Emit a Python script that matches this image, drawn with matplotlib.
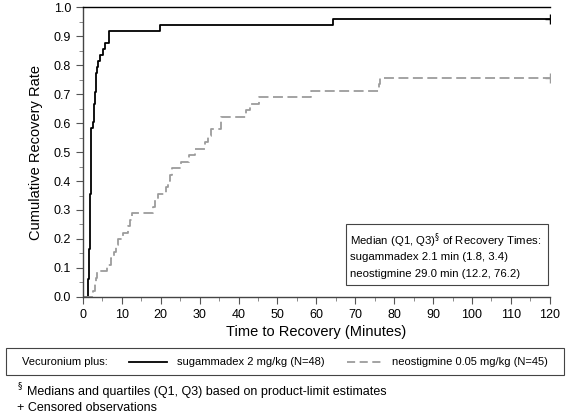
import matplotlib
matplotlib.use("Agg")
import matplotlib.pyplot as plt
from matplotlib.patches import Rectangle
from matplotlib.lines import Line2D
from matplotlib.ticker import MultipleLocator

plt.rcParams['font.family'] = ['Liberation Sans', 'DejaVu Sans']

# Dados (tempo em minutos, taxa acumulada de recuperação)
sug_tempo = [0, 1.2, 1.3, 1.5, 1.6, 1.7, 1.8, 1.9, 2.0, 2.1, 2.2, 2.5, 2.9, 3.1,
             3.4, 3.6, 3.8, 4.4, 5.1, 5.8, 6.8, 19.8, 64.2, 120]
sug_taxa = [0, 0.021, 0.063, 0.104, 0.167, 0.208, 0.25, 0.354, 0.458, 0.5, 0.583,
            0.604, 0.667, 0.708, 0.771, 0.792, 0.813, 0.833, 0.854, 0.875, 0.917,
            0.938, 0.958, 0.958]

neo_tempo = [0, 2.7, 3.0, 3.3, 3.7, 6.2, 7.2, 8.0, 8.5, 9.1, 10.3, 11.6, 12.2, 12.6,
             18.0, 18.6, 19.2, 21.4, 21.8, 22.5, 23.0, 25.3, 27.3, 28.8, 31.5, 32.2,
             32.8, 35.4, 35.6, 41.8, 43.0, 45.3, 58.6, 76.2, 76.4, 120]
neo_taxa = [0, 0.022, 0.044, 0.067, 0.089, 0.111, 0.133, 0.156, 0.178, 0.2, 0.222,
            0.244, 0.267, 0.289, 0.311, 0.333, 0.356, 0.378, 0.4, 0.422, 0.444,
            0.467, 0.489, 0.511, 0.533, 0.556, 0.578, 0.6, 0.622, 0.644, 0.667,
            0.689, 0.711, 0.733, 0.756, 0.756]

rotulos = ["sugammadex 2 mg/kg (N=48)", "neostigmine 0.05 mg/kg (N=45)"]
medianas = ["Median (Q1, Q3)$^{\\S}$ of Recovery Times:",
            "sugammadex 2.1 min (1.8, 3.4)",
            "neostigmine 29.0 min (12.2, 76.2)"]

cinza = '#9c9c9c'
tracejado = (0, (5.5, 2.5))

fig = plt.figure(figsize=(5.68, 4.18), dpi=100)
ax = fig.add_axes([0.146, 0.2895, 0.822, 0.6937])

ax.step(sug_tempo, sug_taxa, where='post', color='black', lw=1.3)
ax.step(neo_tempo, neo_taxa, where='post', color=cinza, lw=1.3, linestyle=tracejado)

# observações censuradas
ax.plot(sug_tempo[-1], sug_taxa[-1], '+', color='black', ms=7, mew=1)
ax.plot(neo_tempo[-1], neo_taxa[-1], '+', color=cinza, ms=7, mew=1)

ax.set_xlim(0, 120)
ax.set_ylim(0, 1.0)
ax.xaxis.set_major_locator(MultipleLocator(10))
ax.xaxis.set_minor_locator(MultipleLocator(5))
ax.yaxis.set_major_locator(MultipleLocator(0.1))
ax.yaxis.set_minor_locator(MultipleLocator(0.05))
ax.yaxis.set_major_formatter(matplotlib.ticker.FormatStrFormatter('%.1f'))
ax.tick_params(which='major', direction='out', length=5, width=0.8, labelsize=9,
               color='#555555')
ax.tick_params(which='minor', direction='out', length=3, width=0.6, color='#777777')
ax.spines['right'].set_visible(False)
for s in ['left', 'bottom', 'top']:
    ax.spines[s].set_linewidth(1.0)
ax.spines['left'].set_color('#444444')
ax.spines['bottom'].set_color('#444444')

ax.set_xlabel("Time to Recovery (Minutes)", fontsize=10.5, labelpad=3)
ax.set_ylabel("Cumulative Recovery Rate", fontsize=10.5, labelpad=8)

# caixa das medianas
ax.add_patch(Rectangle((0.563, 0.043), 0.434, 0.207, transform=ax.transAxes,
                       fill=True, facecolor='white', edgecolor='#444444', lw=0.8))
for i, t in enumerate(medianas):
    ax.text(0.573, 0.195 - i * 0.058, t, transform=ax.transAxes, fontsize=8.2,
            va='center', ha='left')

# legenda em caixa na parte de baixo
fig.patches.append(Rectangle((0.0106, 0.103), 0.982, 0.064, transform=fig.transFigure,
                             fill=False, edgecolor='#444444', lw=0.8))
yl = 0.135
fig.text(0.038, yl, "Vecuronium plus:", fontsize=8, va='center')
fig.lines.append(Line2D([0.227, 0.294], [yl, yl], transform=fig.transFigure,
                        color='black', lw=1.3))
fig.text(0.312, yl, rotulos[0], fontsize=8, va='center')
fig.lines.append(Line2D([0.611, 0.676], [yl, yl], transform=fig.transFigure,
                        color=cinza, lw=1.3, linestyle=(0, (4.5, 2.5))))
fig.text(0.69, yl, rotulos[1], fontsize=8, va='center')

# notas de rodapé
fig.text(0.03, 0.068, "$^{\\S}$", fontsize=9, va='center')
fig.text(0.047, 0.062, "Medians and quartiles (Q1, Q3) based on product-limit estimates",
         fontsize=9, va='center')
fig.text(0.03, 0.024, "+ Censored observations", fontsize=9, va='center')

fig.savefig("out.png", dpi=100)
